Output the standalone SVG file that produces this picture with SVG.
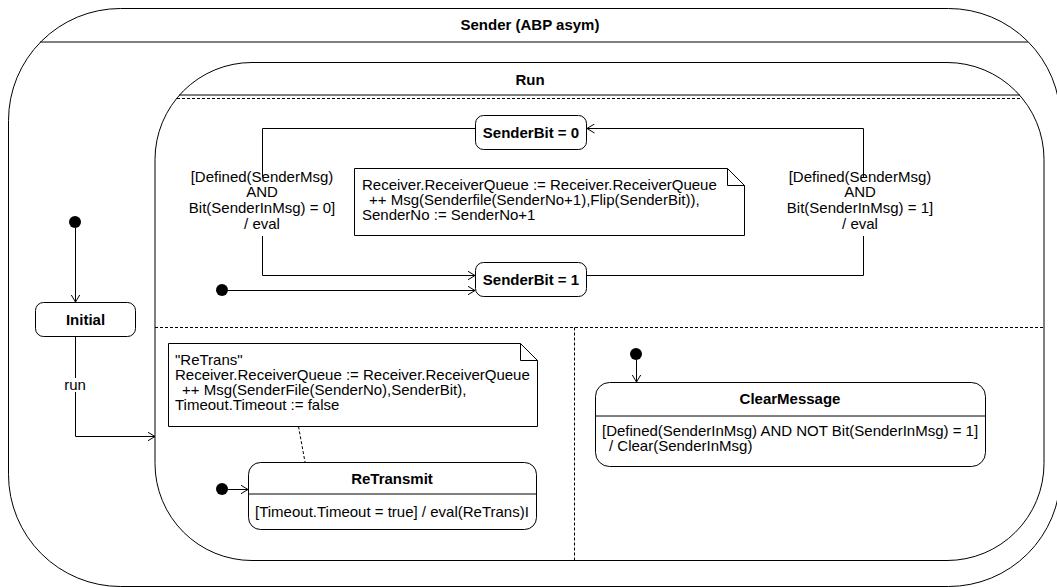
<svg xmlns="http://www.w3.org/2000/svg" width="1057" height="587" viewBox="0 0 1057 587">
  <style>
    text { font-family: "Liberation Sans", Arial, sans-serif; font-size: 15px; fill: #000; }
    .title { font-weight: bold; text-anchor: middle; }
    .mid { text-anchor: middle; }
    .frame { fill: #fff; stroke: #000; stroke-width: 1; }
    .sep { fill: none; stroke: #000; stroke-width: 1; }
    .dash { fill: none; stroke: #000; stroke-width: 1; stroke-dasharray: 3 2; }
    .wire { fill: none; stroke: #000; stroke-width: 1; marker-end: url(#open); }
    .plain { fill: none; stroke: #000; stroke-width: 1; }
    .dot { fill: #000; }
  </style>
  <defs>
    <marker id="open" viewBox="0 0 8 10" refX="7.5" refY="5" markerWidth="8" markerHeight="10" markerUnits="userSpaceOnUse" orient="auto">
      <path d="M0,0.5 L7.5,5 L0,9.5" fill="none" stroke="#000" stroke-width="1"/>
    </marker>
  </defs>

  <rect width="1057" height="587" fill="#fff"/>

  <!-- outer state machine -->
  <g id="sender">
    <rect class="frame" x="8.5" y="8.5" width="1052" height="578" rx="112" ry="112"/>
    <line class="sep" x1="40" y1="42" x2="1028" y2="42"/>
    <text class="title" x="530" y="30">Sender (ABP asym)</text>
  </g>

  <!-- composite state with three concurrent regions -->
  <g id="run">
    <rect class="frame" x="155" y="62.5" width="889" height="498" rx="97" ry="97"/>
    <line class="sep" x1="179" y1="95" x2="1020" y2="95"/>
    <line class="dash" x1="177" y1="98.5" x2="1022" y2="98.5"/>
    <text class="title" x="530" y="85">Run</text>
    <line class="dash" x1="155" y1="327.5" x2="1044" y2="327.5"/>
    <line class="dash" x1="574.5" y1="327.5" x2="574.5" y2="560"/>
  </g>

  <g id="initial">
    <rect class="frame" x="35.5" y="302.5" width="100" height="34" rx="8" ry="8"/>
    <text class="title" x="85.5" y="325">Initial</text>
  </g>

  <g id="senderbit0">
    <rect class="frame" x="475.5" y="115.5" width="111" height="34" rx="8" ry="8"/>
    <text class="title" x="531" y="138">SenderBit = 0</text>
  </g>

  <g id="senderbit1">
    <rect class="frame" x="475.5" y="262.5" width="111" height="34" rx="8" ry="8"/>
    <text class="title" x="531" y="285">SenderBit = 1</text>
  </g>

  <g id="note-flip">
    <path class="frame" d="M354.5,168.5 H727.5 L744.5,185.5 V235.5 H354.5 Z"/>
    <path class="plain" d="M727.5,168.5 V185.5 H744.5"/>
    <text x="362" y="190">Receiver.ReceiverQueue := Receiver.ReceiverQueue</text>
    <text x="369" y="205">++ Msg(Senderfile(SenderNo+1),Flip(SenderBit)),</text>
    <text x="362" y="220">SenderNo := SenderNo+1</text>
  </g>

  <g id="note-retrans">
    <path class="frame" d="M168.5,343.5 H520.5 L537.5,360.5 V426.5 H168.5 Z"/>
    <path class="plain" d="M520.5,343.5 V360.5 H537.5"/>
    <text x="175" y="365">"ReTrans"</text>
    <text x="175" y="380">Receiver.ReceiverQueue := Receiver.ReceiverQueue</text>
    <text x="182" y="395">++ Msg(SenderFile(SenderNo),SenderBit),</text>
    <text x="175" y="410">Timeout.Timeout := false</text>
  </g>

  <g id="retransmit">
    <rect class="frame" x="248.5" y="462.5" width="288" height="67" rx="12" ry="12"/>
    <line class="sep" x1="249" y1="494" x2="536" y2="494"/>
    <text class="title" x="392" y="484">ReTransmit</text>
    <text x="255" y="517">[Timeout.Timeout = true] / eval(ReTrans)I</text>
  </g>

  <g id="clearmessage">
    <rect class="frame" x="595.5" y="382.5" width="390" height="84" rx="14" ry="14"/>
    <line class="sep" x1="596" y1="416" x2="985" y2="416"/>
    <text class="title" x="790" y="404">ClearMessage</text>
    <text x="602" y="436">[Defined(SenderInMsg) AND NOT Bit(SenderInMsg) = 1]</text>
    <text x="609" y="451">/ Clear(SenderInMsg)</text>
  </g>

  <!-- pseudostates -->
  <g id="start-top"><circle class="dot" cx="75" cy="222" r="6"/></g>
  <g id="start-bits"><circle class="dot" cx="222" cy="290" r="6"/></g>
  <g id="start-retransmit"><circle class="dot" cx="222" cy="489" r="6"/></g>
  <g id="start-clear"><circle class="dot" cx="636" cy="354" r="6"/></g>

  <g id="connectors">
    <path class="wire" d="M75.5,228 V302"/>
    <path class="plain" d="M75.5,336.5 V378"/>
    <path class="wire" d="M75.5,392 V436.5 H155"/>
    <text class="mid" x="75" y="390">run</text>

    <path class="wire" d="M228,290.5 H475"/>
    <path class="wire" d="M228,489.5 H248"/>
    <path class="wire" d="M636.5,360 V382"/>

    <!-- SenderBit = 0 to SenderBit = 1 -->
    <path class="plain" d="M475,128.5 H262.5 V177"/>
    <path class="wire" d="M262.5,236 V275.5 H475"/>
    <text class="mid" x="262" y="182">[Defined(SenderMsg)</text>
    <text class="mid" x="262" y="197">AND</text>
    <text class="mid" x="262" y="213">Bit(SenderInMsg) = 0]</text>
    <text class="mid" x="262" y="229">/ eval</text>

    <!-- SenderBit = 1 to SenderBit = 0 -->
    <path class="plain" d="M587,275.5 H863.5 V236"/>
    <path class="wire" d="M863.5,177 V128.5 H587"/>
    <text class="mid" x="860" y="182">[Defined(SenderMsg)</text>
    <text class="mid" x="860" y="197">AND</text>
    <text class="mid" x="860" y="213">Bit(SenderInMsg) = 1]</text>
    <text class="mid" x="860" y="229">/ eval</text>

    <!-- note anchor -->
    <line class="dash" x1="298.5" y1="426.5" x2="305" y2="462"/>
  </g>
</svg>
